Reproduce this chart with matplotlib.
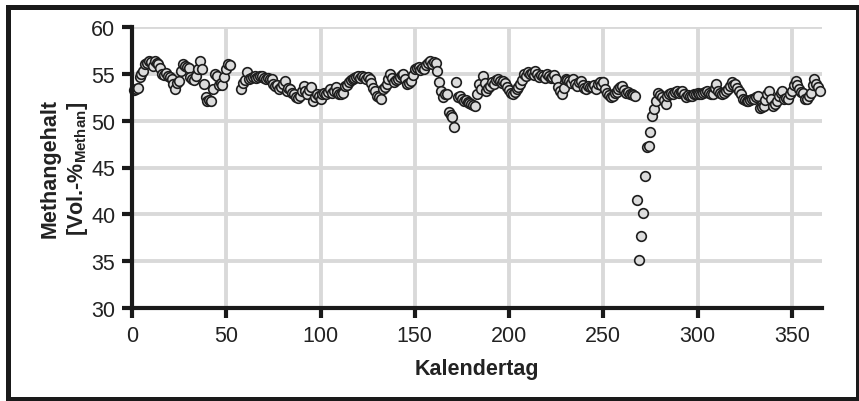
import matplotlib
matplotlib.use("Agg")
import matplotlib.pyplot as plt
from matplotlib.patches import Rectangle

# Daily methane content of the biogas, by calendar day
days_a = list(range(1, 53))
vals_a = [
    53.3, 53.4, 53.5, 54.7, 55.0, 55.3, 56.0, 56.2, 56.4, 56.3,
    55.8, 56.4, 56.2, 56.0, 55.6, 55.0, 54.9, 55.1, 54.8, 54.7,
    54.5, 53.9, 53.4, 54.0, 54.2, 55.3, 56.0, 55.8, 55.7, 55.6,
    54.7, 54.5, 54.3, 54.8, 55.5, 56.4, 55.5, 53.9, 52.5, 52.1,
    52.2, 52.1, 53.4, 55.0, 54.8, 53.8, 54.0, 53.8, 54.7, 55.5,
    56.0, 55.9,
]
days_b = list(range(58, 268))
vals_b = [
    53.4, 54.0, 54.3, 55.2, 54.5, 54.6, 54.7, 54.8, 54.6, 54.7,
    54.8, 54.8, 54.6, 54.5, 54.6, 54.5, 54.5, 53.9, 53.7, 53.8,
    53.4, 53.6, 53.9, 54.2, 53.2, 53.5, 53.4, 53.0, 52.8, 52.5,
    52.4, 52.6, 53.2, 53.7, 53.2, 52.9, 53.3, 53.6, 52.1, 52.5,
    52.8, 52.6, 52.3, 52.8, 53.0, 52.8, 53.1, 53.4, 53.0, 53.2,
    53.6, 53.1, 52.8, 52.9, 53.0, 53.7, 53.8, 54.1, 54.3, 54.5,
    54.6, 54.7, 54.8, 54.6, 54.8, 54.7, 54.5, 54.7, 54.5, 54.0,
    53.5, 53.2, 52.6, 52.5, 52.3, 53.4, 53.6, 53.9, 54.4, 55.0,
    54.6, 54.1, 54.3, 54.5, 54.7, 54.9, 55.0, 54.4, 53.9, 54.0,
    54.2, 54.9, 55.5, 55.6, 55.7, 55.4, 55.6, 55.5, 55.9, 56.2,
    56.4, 56.1, 56.3, 56.2, 55.3, 54.1, 53.2, 52.5, 52.8, 52.9,
    50.9, 50.6, 50.4, 49.3, 54.1, 52.5, 52.6, 52.3, 52.1, 52.2,
    52.0, 51.9, 51.8, 51.7, 51.6, 52.8, 53.9, 53.4, 54.8, 54.0,
    53.2, 53.5, 53.7, 54.1, 53.9, 54.3, 54.5, 54.2, 54.0, 54.2,
    54.0, 53.6, 53.3, 53.0, 52.8, 53.1, 53.4, 53.6, 53.9, 54.3,
    55.0, 54.8, 55.2, 55.0, 55.1, 54.9, 55.3, 55.0, 54.7, 54.9,
    54.8, 54.6, 55.0, 54.8, 54.6, 54.7, 54.9, 54.5, 53.6, 53.2,
    52.8, 53.5, 54.5, 54.3, 54.2, 54.0, 54.4, 53.9, 53.7, 54.1,
    54.2, 53.8, 53.5, 53.4, 53.7, 53.6, 53.6, 53.8, 53.4, 53.9,
    54.1, 53.8, 54.1, 53.4, 53.0, 52.7, 52.5, 52.6, 53.0, 53.1,
    53.4, 53.6, 53.7, 53.3, 53.0, 53.1, 52.9, 52.8, 52.7, 52.6,
]
days_c = list(range(268, 366))
vals_c = [
    41.5, 35.1, 37.7, 40.1, 44.1, 47.2, 47.3, 48.8, 50.5, 51.2,
    52.1, 53.0, 52.7, 52.5, 52.2, 51.8, 52.6, 52.8, 53.0, 52.9,
    53.1, 53.2, 53.0, 53.1, 53.2, 52.8, 52.5, 52.7, 52.6, 52.6,
    52.8, 52.9, 53.0, 52.9, 52.8, 53.0, 53.1, 53.2, 53.0, 52.9,
    52.8, 53.5, 53.9, 53.2, 53.0, 52.8, 53.0, 53.2, 53.4, 53.7,
    54.1, 53.8, 53.9, 53.5, 53.2, 52.8, 52.3, 52.2, 52.1, 52.1,
    52.2, 52.3, 52.3, 52.5, 52.6, 51.3, 51.5, 51.6, 52.2, 52.8,
    53.2, 52.3, 51.6, 51.8, 52.1, 52.6, 53.0, 53.2, 52.3, 52.4,
    52.3, 52.8, 53.2, 53.8, 54.2, 53.8, 53.4, 53.1, 53.0, 52.3,
    52.3, 52.6, 53.0, 53.8, 54.5, 53.9, 53.6, 53.2,
]

x_ticks = [0, 50, 100, 150, 200, 250, 300, 350]
y_ticks = [30, 35, 40, 45, 50, 55, 60]

days = days_a + days_b + days_c
vals = vals_a + vals_b + vals_c

plt.rcParams["font.family"] = ["Liberation Sans", "DejaVu Sans"]
plt.rcParams["mathtext.fontset"] = "custom"
plt.rcParams["mathtext.rm"] = "Liberation Sans"
plt.rcParams["mathtext.bf"] = "Liberation Sans:bold"

fig = plt.figure(figsize=(8.59, 4.02), dpi=100)
ax = fig.add_axes([132 / 859, 93 / 402, 690 / 859, 281 / 402])

ax.scatter(days, vals, s=48, facecolor="#dcdcdc", edgecolor="#1e1e1e",
           linewidth=1.2, zorder=3, clip_on=False)

ax.set_xlim(0, 366)
ax.set_ylim(30, 60)
ax.set_xticks(x_ticks)
ax.set_yticks(y_ticks)
ax.grid(True, color="#d9d9d9", linewidth=2.8, zorder=0)
ax.set_axisbelow(True)

for side in ("top", "right"):
    ax.spines[side].set_visible(False)
for side in ("left", "bottom"):
    ax.spines[side].set_linewidth(3.0)
    ax.spines[side].set_color("#1a1a1a")
    ax.spines[side].set_zorder(4)

ax.tick_params(axis="both", direction="out", length=7, width=3.0,
               color="#1a1a1a", labelsize=15.5, labelcolor="#222222", pad=5)

ax.set_xlabel("Kalendertag", fontsize=15.5, fontweight="bold",
              color="#222222", labelpad=9)
ax.set_ylabel("Methangehalt\n[Vol.-%$_{\\mathbf{Methan}}$]", fontsize=15.5,
              fontweight="bold", color="#222222", labelpad=1,
              linespacing=1.25)

# Outer frame around the whole figure
fig.patches.append(Rectangle((7.5 / 859, 2.5 / 402), 850 / 859, 392 / 402,
                             transform=fig.transFigure, fill=False,
                             edgecolor="#1a1a1a", linewidth=3.6))

fig.savefig("out.png", dpi=100)
